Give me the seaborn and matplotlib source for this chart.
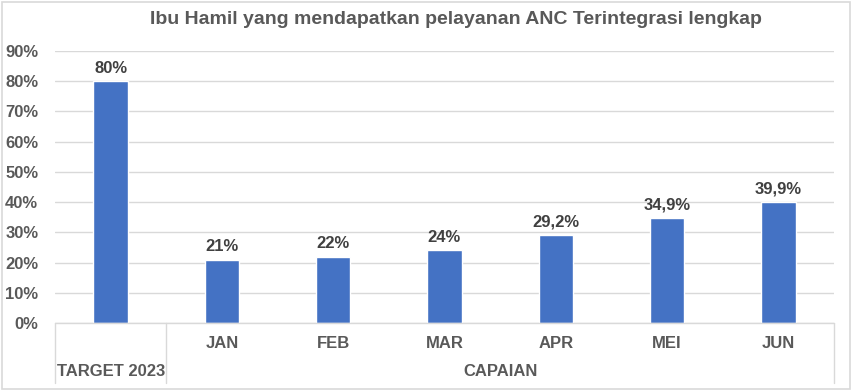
import matplotlib
matplotlib.use("Agg")
import pandas as pd
import seaborn as sns
import matplotlib.pyplot as plt
from matplotlib.patches import Rectangle

# -----------------------
# Data
# -----------------------
categories = ["TARGET 2023", "JAN", "FEB", "MAR", "APR", "MEI", "JUN"]
values = [0.80, 0.21, 0.22, 0.24, 0.292, 0.349, 0.399]
value_labels = ["80%", "21%", "22%", "24%", "29,2%", "34,9%", "39,9%"]
month_labels = ["", "JAN", "FEB", "MAR", "APR", "MEI", "JUN"]
group_labels = ["TARGET 2023", "CAPAIAN"]
y_ticks = [0, 0.1, 0.2, 0.3, 0.4, 0.5, 0.6, 0.7, 0.8, 0.9]

df = pd.DataFrame({"cat": categories, "val": values})

sns.set_style("white")
plt.rcParams["font.family"] = ["Liberation Sans", "DejaVu Sans"]

TXT = "#595959"
GRID = "#d9d9d9"
BLUE = "#4472c4"
FS = 12

# plot area in pixels: x 55..834, y 51..323
H = 272
fig = plt.figure(figsize=(8.53, 3.9), dpi=100)
ax = fig.add_axes([55 / 853, 67 / 390, 779 / 853, H / 390])

sns.barplot(data=df, x="cat", y="val", color=BLUE, width=0.31,
            saturation=1, ax=ax, zorder=3)

ax.set_ylim(0, 0.9)
ax.set_xlim(-0.5, len(categories) - 0.5)
ax.set_yticks(y_ticks)
ax.set_yticklabels([f"{int(round(t * 100))}%" for t in y_ticks],
                   fontsize=FS, fontweight="bold", color=TXT)
ax.tick_params(axis="y", length=0, pad=12)
ax.set_xticks([])
ax.set_xlabel("")
ax.set_ylabel("")
ax.yaxis.grid(True, color=GRID, linewidth=1, zorder=0)
for s in ax.spines.values():
    s.set_visible(False)

# data labels
for i, (v, lab) in enumerate(zip(values, value_labels)):
    ax.text(i, v + 0.018, lab, ha="center", va="bottom", fontsize=FS,
            fontweight="bold", color="#404040")

# multi-level category axis
trans = ax.get_xaxis_transform()
ax.plot([-0.5, len(categories) - 0.5], [0, 0], color=GRID, lw=1,
        transform=trans, clip_on=False, zorder=4)
y_low = -60 / H
for xb in [-0.5, 0.5, len(categories) - 0.5]:
    ax.plot([xb, xb], [0, y_low], color=GRID, lw=1, transform=trans,
            clip_on=False)
for i, m in enumerate(month_labels):
    if m:
        ax.text(i, -21 / H, m, ha="center", va="center", fontsize=FS,
                fontweight="bold", color=TXT, transform=trans)
ax.text(0, -49 / H, group_labels[0], ha="center", va="center", fontsize=FS,
        fontweight="bold", color=TXT, transform=trans)
ax.text(3.5, -49 / H, group_labels[1], ha="center", va="center",
        fontsize=FS, fontweight="bold", color=TXT, transform=trans)

fig.text(456 / 853, 1 - 20 / 390,
         "Ibu Hamil yang mendapatkan pelayanan ANC Terintegrasi lengkap",
         ha="center", va="center", fontsize=14, fontweight="bold", color=TXT)

fig.patches.append(Rectangle((0.002, 0.003), 0.995, 0.993, transform=fig.transFigure,
                             fill=False, edgecolor=GRID, lw=1.2))

fig.savefig("out.png", dpi=100)
